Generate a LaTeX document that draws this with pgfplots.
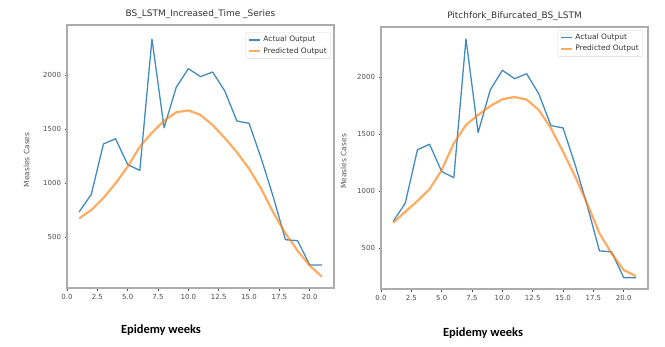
\documentclass[border=0pt]{standalone}
\usepackage{fontspec}
\setmainfont{DejaVu Sans}
\newfontfamily\calib{Carlito}
\usepackage{pgfplots}
\pgfplotsset{compat=1.18}
\definecolor{mblue}{HTML}{1F77B4}
\definecolor{morange}{HTML}{FF7F0E}
\pgfplotsset{
  mystyle/.style={
    scale only axis,
    width=267bp,
    xmin=0, xmax=22,
    xtick={0,2.5,5,7.5,10,12.5,15,17.5,20},
    xticklabels={0.0,2.5,5.0,7.5,10.0,12.5,15.0,17.5,20.0},
    ytick={500,1000,1500,2000},
    tick pos=left,
    /pgf/number format/assume math mode=true,
    tick align=outside,
    major tick length=2.5bp,
    tick style={gray!60!black, line width=0.6pt},
    axis line style={gray!65, line width=1.4pt},
    ticklabel style={font=\fontsize{7}{8}\selectfont, text=black!70},
    y tick label style={/pgf/number format/1000 sep={}},
    title style={font=\fontsize{9}{10}\selectfont, text=black!80, yshift=-3bp},
    ylabel style={font=\fontsize{7.5}{8.5}\selectfont, text=black!65},
    legend style={font=\fontsize{7.5}{9}\selectfont, draw=gray!30, rounded corners=1pt, inner sep=2bp, row sep=0bp, text=black!80},
    legend cell align=left,
    legend image code/.code={\draw[#1] (0cm,0cm) -- (0.4cm,0cm);},
    clip=false,
  }
}
\pgfplotstableread{
x actual predL predR
1 733 673 722
2 895 750 819
3 1363 862 913
4 1412 998 1018
5 1172 1153 1185
6 1118 1338 1420
7 2337 1468 1581
8 1514 1579 1669
9 1889 1657 1748
10 2062 1675 1807
11 1988 1632 1827
12 2031 1539 1804
13 1855 1419 1713
14 1576 1286 1552
15 1555 1134 1347
16 1230 948 1127
17 870 726 887
18 475 534 629
19 466 373 453
20 240 234 306
21 240 132 254
}\data
\begin{document}
\begin{tikzpicture}[x=1bp,y=1bp]
\path (0,0) rectangle (665,346);
\begin{axis}[mystyle, at={(67bp,58bp)}, anchor=south west, height=263bp,
  ymin=27, ymax=2467,
  title={BS\_LSTM\_Increased\_Time \_Series},
  ylabel={Measles Cases},
  ylabel style={at={(axis description cs:-0.127,0.487)}},
  xlabel={\calib\bfseries\fontsize{12.5}{14}\selectfont Epidemy weeks},
  xlabel style={at={(axis description cs:0.352,-0.16)}, anchor=center},
  legend style={at={(axis description cs:0.989,0.973)}, anchor=north east},
]
\addplot[mblue!85, line width=1.3pt, line join=round] table[x=x,y=actual]{\data};
\addlegendentry{Actual Output}
\addplot[morange, opacity=0.65, line width=2.2pt, line join=round] table[x=x,y=predL]{\data};
\addlegendentry{Predicted Output}
\end{axis}
\begin{axis}[mystyle, at={(381bp,57bp)}, anchor=south west, height=262bp,
  ymin=140, ymax=2442,
  title={Pitchfork\_Bifurcated\_BS\_LSTM},
  ylabel={Measles Cases},
  ylabel style={at={(axis description cs:-0.116,0.487)}},
  xlabel={\calib\bfseries\fontsize{12.5}{14}\selectfont Epidemy weeks},
  xlabel style={at={(axis description cs:0.382,-0.168)}, anchor=center},
  legend style={at={(axis description cs:0.981,0.989)}, anchor=north east},
]
\addplot[mblue!85, line width=1.3pt, line join=round] table[x=x,y=actual]{\data};
\addlegendentry{Actual Output}
\addplot[morange, opacity=0.65, line width=2.2pt, line join=round] table[x=x,y=predR]{\data};
\addlegendentry{Predicted Output}
\end{axis}
\end{tikzpicture}
\end{document}
